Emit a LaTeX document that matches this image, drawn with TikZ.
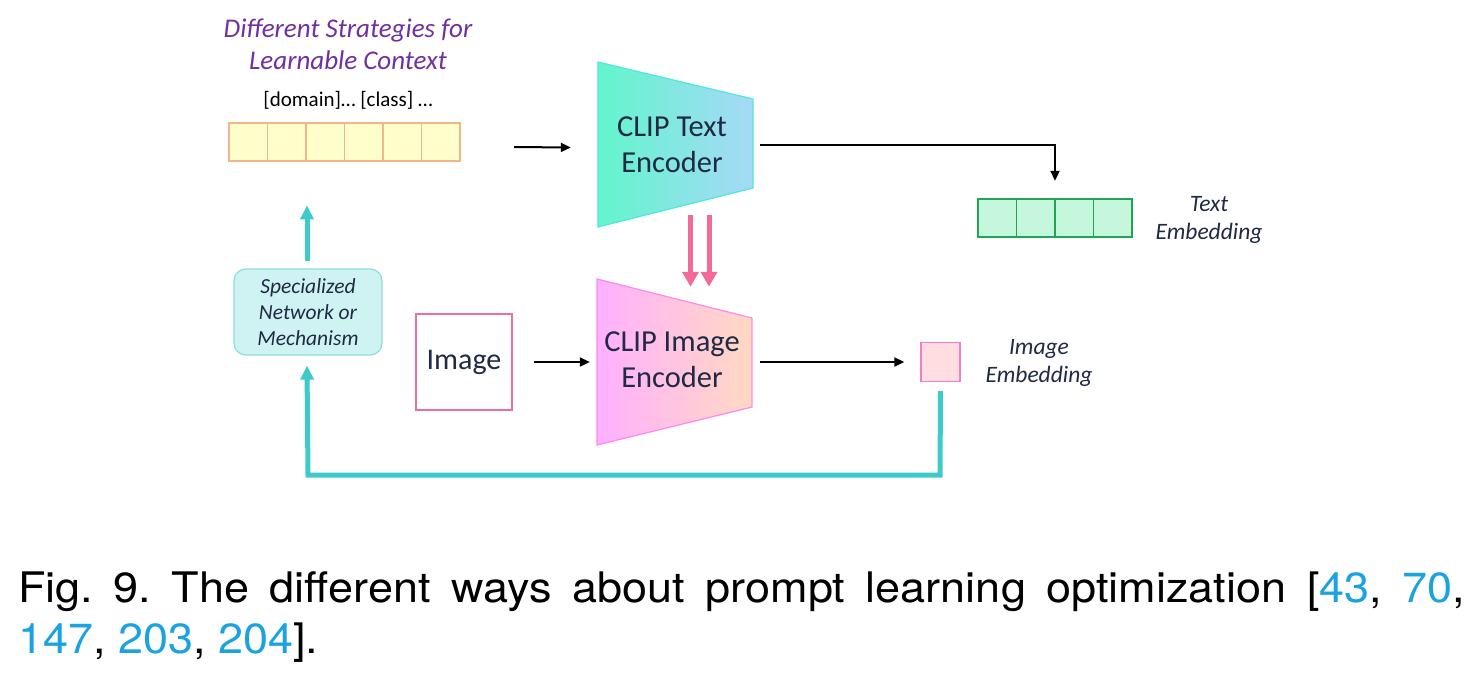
\documentclass[tikz,border=0pt]{standalone}
\usepackage{fontspec}
\setmainfont{Carlito}
\newfontfamily\capfont{TeX Gyre Heros}
\usetikzlibrary{arrows.meta,positioning,calc}
\definecolor{navy}{HTML}{1F2A44}
\definecolor{titlepurple}{HTML}{7030A0}
\definecolor{tokfill}{HTML}{FFFFCC}
\definecolor{tokline}{HTML}{F6B48A}
\definecolor{tencL}{HTML}{62F5CC}
\definecolor{tencR}{HTML}{A6D9F7}
\definecolor{tencline}{HTML}{4EE8DC}
\definecolor{iencL}{HTML}{FFB0FF}
\definecolor{iencR}{HTML}{FFD9C2}
\definecolor{iencline}{HTML}{FF88EC}
\definecolor{tembfill}{HTML}{C4F7DB}
\definecolor{tembline}{HTML}{22A455}
\definecolor{imgline}{HTML}{E8709A}
\definecolor{iembfill}{HTML}{FFDDE0}
\definecolor{iembline}{HTML}{F07FC8}
\definecolor{pinkarrow}{HTML}{F26A9A}
\definecolor{teal}{HTML}{3CCBC8}
\definecolor{specfill}{HTML}{CFF3F3}
\definecolor{specline}{HTML}{8EDCDC}
\definecolor{citeblue}{HTML}{1AA3E0}
\begin{document}
\begin{tikzpicture}[x=1pt,y=-1pt,
  blackarrow/.style={line width=2pt,-{Triangle[length=10pt,width=9pt]}},
  pinkarr/.style={pinkarrow,line width=5pt,-{Triangle[length=15pt,width=16pt]}},
  tealarr/.style={teal,line width=5pt,-{Triangle[length=14pt,width=13pt]}},
  lbl/.style={text=navy,align=center,inner sep=0pt},
  bigtxt/.style={lbl,font=\fontsize{30.5}{36}\selectfont},
  itxt/.style={lbl,font=\fontsize{23.5}{28}\selectfont\itshape},
  box/.style={draw,minimum width=#1,minimum height=#1,inner sep=0pt,line width=1.4pt},
  cell/.style={draw=tokline,fill=tokfill,line width=1.4pt},
  captxt/.style={anchor=base west,inner sep=0pt,font=\capfont\fontsize{45}{51}\selectfont}
]
\useasboundingbox (0,0) rectangle (1475,673);
\fill[white] (0,0) rectangle (1475,673);

% title
\node[font=\fontsize{27}{32}\selectfont\itshape,text=titlepurple,align=center,inner sep=0pt] (title) at (348,44) {Different Strategies for\\Learnable Context};
\node[font=\fontsize{21}{24}\selectfont,inner sep=0pt] (prompt) at (348,100) {[domain]\dots\ [class] \dots};

% token row
\node[minimum width=231,minimum height=38,inner sep=0pt] (ctx) at (344.5,142) {};
\foreach \i in {0,...,5}{
  \draw[cell] (229+\i*38.5,123) rectangle (229+\i*38.5+38.5,161);
}

% text encoder
\node[minimum width=155,minimum height=165,inner sep=0pt] (tenc) at (675.5,144.5) {};
\shade[left color=tencL,right color=tencR] (598,62) -- (753,99) -- (753,188) -- (598,227) -- cycle;
\draw[tencline,line width=1.2pt] (598,62) -- (753,99) -- (753,188) -- (598,227) -- cycle;
\node[bigtxt] (tenctext) at (672,145) {CLIP Text\\Encoder};

% image encoder
\node[minimum width=155,minimum height=166,inner sep=0pt] (ienc) at (674.5,362) {};
\shade[left color=iencL,right color=iencR] (597,279) -- (752,318) -- (752,407) -- (597,445) -- cycle;
\draw[iencline,line width=1.2pt] (597,279) -- (752,318) -- (752,407) -- (597,445) -- cycle;
\node[bigtxt] (ienctext) at (672,360) {CLIP Image\\Encoder};

% text embedding
\node[minimum width=154,minimum height=38,inner sep=0pt] (temb) at (1055,218) {};
\foreach \i in {0,...,3}{
  \draw[draw=tembline,fill=tembfill,line width=1.4pt] (978+\i*38.5,199) rectangle (978+\i*38.5+38.5,237);
}
\node[itxt] (tembl) at (1209,220) {Text\\Embedding};

% image
\node[box=96,draw=imgline,fill=white,font=\fontsize{30}{32}\selectfont,text=navy] (img) at (464,362) {Image};

% image embedding
\node[box=39,draw=iembline,fill=iembfill] (iemb) at (940.5,362) {};
\node[itxt] (iembl) at (1039,362.5) {Image\\Embedding};

% specialized
\node[draw=specline,fill=specfill,rounded corners=12pt,line width=1.2pt,minimum width=148,minimum height=86,inner sep=0pt,
      font=\fontsize{21.5}{26}\selectfont\itshape,text=navy,align=center] (spec) at (308,312) {Specialized\\Network or\\Mechanism};

% arrows
\draw[blackarrow] ($(ctx.east)+(54,5)$) -- ($(tenc.west)+(-27,3)$);
\coordinate (tstart) at ($(tenc.east)+(7,0)$);
\coordinate (tend) at ($(temb.north)+(0,-18)$);
\draw[blackarrow] (tstart) -| (tend);
\draw[blackarrow] ($(img.east)+(21,0)$) -- ($(ienc.west)+(-7,0)$);
\draw[blackarrow] ($(ienc.east)+(8,0)$) -- ($(iemb.west)+(-16,0)$);

\draw[pinkarr] ($(tenc.south)+(15,-12)$) -- ($(ienc.north)+(16,8)$);
\draw[pinkarr] ($(tenc.south)+(33.5,-12)$) -- ($(ienc.north)+(34.5,8)$);

\coordinate (loopR) at (940,475);
\draw[tealarr] ($(iemb.south)+(0,9)$) -- (loopR) -- (loopR -| spec.south) -- ($(spec.south)+(-1,10)$);
\draw[tealarr] ($(spec.north)+(-1,-7)$) -- ($(spec.north)+(-1,-63)$);

% caption
\node[captxt] (cap1) at (18,602)
  {\scalebox{1}[0.935]{\hbox to 1447pt{\frenchspacing\spaceskip=0.278em plus 1em minus 0.15em Fig. 9. The different ways about prompt learning optimization [\textcolor{citeblue}{43}, \textcolor{citeblue}{70},}}};
\node[captxt] (cap2) at (18,653)
  {\scalebox{1}[0.935]{\textcolor{citeblue}{147}, \textcolor{citeblue}{203}, \textcolor{citeblue}{204}].}};
\end{tikzpicture}
\end{document}
